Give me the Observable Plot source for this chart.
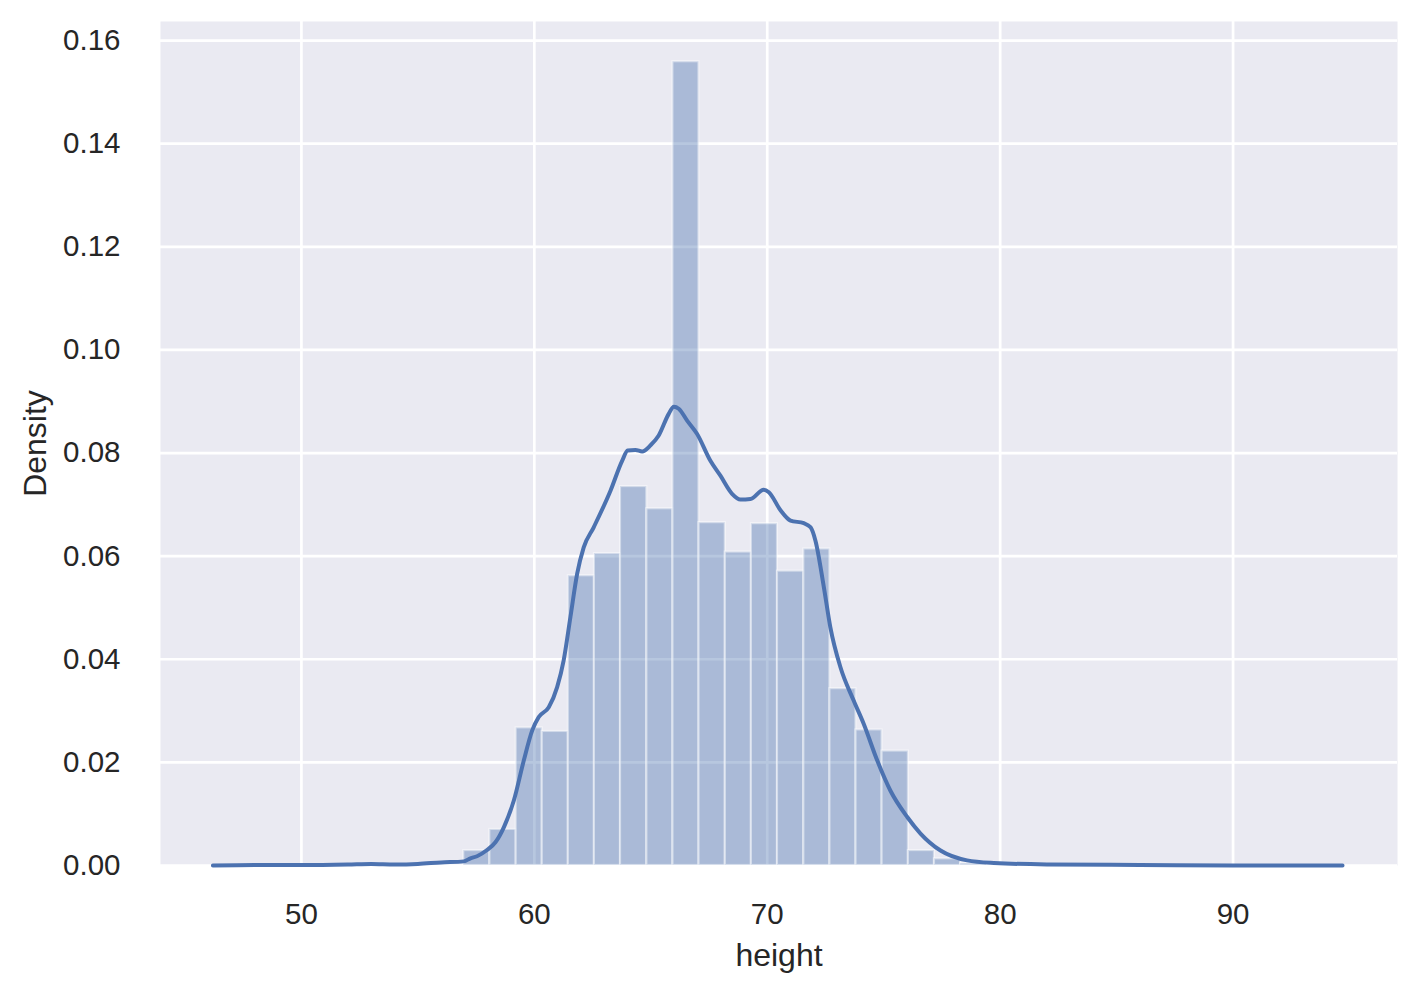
<!DOCTYPE html>
<html>
<head>
<meta charset="utf-8">
<script src="https://cdn.jsdelivr.net/npm/d3@7"></script>
<script src="https://cdn.jsdelivr.net/npm/@observablehq/plot@0.6"></script>
<style>
  body { margin: 0; background: #ffffff; }
  #chart svg { display: block; }
</style>
</head>
<body>
<div id="chart"></div>
<script>
// ---- Data ----
const binEdges = [56.97, 58.09, 59.22, 60.34, 61.46, 62.58, 63.70, 64.83, 65.95, 67.07,
                  68.20, 69.32, 70.44, 71.57, 72.69, 73.81, 74.93, 76.06, 77.18, 78.30, 79.42];
const binDensity = [0.0029, 0.0070, 0.0267, 0.0260, 0.0562, 0.0605, 0.0735, 0.0692, 0.1559, 0.0665,
                    0.0608, 0.0663, 0.0571, 0.0614, 0.0343, 0.0263, 0.0222, 0.0029, 0.0013, 0.0004];

const kdeX = [46.2, 48.0, 50.0, 52.0, 53.0, 54.0, 55.0, 56.0, 56.97, 57.26, 57.54, 57.97, 58.33, 58.69,
              59.12, 59.55, 59.91, 60.19, 60.62, 60.98, 61.26, 61.55, 61.84, 62.12, 62.55, 63.27,
              63.77, 64.01, 64.34, 64.63, 64.99, 65.34, 65.77, 65.99, 66.20, 66.56, 66.99, 67.56,
              67.99, 68.49, 68.85, 69.28, 69.85, 70.07, 70.57, 71.00, 71.57, 71.86, 72.07, 72.43,
              72.71, 73.14, 73.71, 74.14, 74.72, 75.29, 76.01, 76.58, 77.44, 78.58, 79.73, 82.0,
              86.0, 90.0, 94.7];
const kdeY = [0.0000, 0.0001, 0.0001, 0.0002, 0.0003, 0.0002, 0.0003, 0.0006, 0.0008, 0.0014, 0.0018,
              0.0030, 0.0045, 0.0074, 0.0126, 0.0204, 0.0262, 0.0288, 0.0307, 0.0346, 0.0398, 0.0482,
              0.0566, 0.0617, 0.0656, 0.0727, 0.0785, 0.0805, 0.0806, 0.0803, 0.0815, 0.0834, 0.0876,
              0.0890, 0.0886, 0.0863, 0.0837, 0.0785, 0.0756, 0.0721, 0.0710, 0.0711, 0.0729, 0.0724,
              0.0689, 0.0669, 0.0664, 0.0656, 0.0630, 0.0540, 0.0462, 0.0385, 0.0320, 0.0275, 0.0204,
              0.0145, 0.0094, 0.0062, 0.0029, 0.0010, 0.0005, 0.0002, 0.0001, 0.0000, 0.0000];

const xTicks = [50, 60, 70, 80, 90];
const yTicks = [0, 0.02, 0.04, 0.06, 0.08, 0.10, 0.12, 0.14, 0.16];
const xLabel = "height";
const yLabel = "Density";

// ---- Build tables for the library ----
const bins = binDensity.map((d, i) => ({x1: binEdges[i], x2: binEdges[i + 1], y: d}));
const kde = kdeX.map((x, i) => ({x, y: kdeY[i]}));

const blue = "#4C72B0";
const textColor = "#262626";

const chart = Plot.plot({
  width: 1417,
  height: 994,
  marginLeft: 160,
  marginRight: 20,
  marginTop: 21,
  marginBottom: 129,
  style: {fontFamily: "'Liberation Sans', Arial, sans-serif", color: textColor, background: "#ffffff"},
  x: {domain: [43.95, 97.06]},
  y: {domain: [0, 0.1637]},
  marks: [
    Plot.frame({fill: "#EAEAF2", stroke: null}),
    Plot.gridX({ticks: xTicks, stroke: "#ffffff", strokeOpacity: 1, strokeWidth: 2.7}),
    Plot.gridY({ticks: yTicks, stroke: "#ffffff", strokeOpacity: 1, strokeWidth: 2.7}),
    Plot.rectY(bins, {x1: "x1", x2: "x2", y: "y", fill: blue, fillOpacity: 0.4,
                      stroke: "#ffffff", strokeOpacity: 0.45, strokeWidth: 2.2}),
    Plot.line(kde, {x: "x", y: "y", stroke: blue, strokeWidth: 4, curve: "monotone-x"}),
    Plot.axisX({ticks: xTicks, tickSize: 0, tickPadding: 38, label: null, fontSize: 29.5,
                tickFormat: d3.format("d")}),
    Plot.axisY({ticks: yTicks, tickSize: 0, tickPadding: 40, label: null, fontSize: 29.5,
                tickFormat: d3.format(".2f")}),
    Plot.text([xLabel], {frameAnchor: "bottom", dy: 90, lineAnchor: "middle", textAnchor: "middle",
                         fontSize: 32, fill: textColor}),
    Plot.text([yLabel], {frameAnchor: "left", dx: -125, rotate: -90, lineAnchor: "middle",
                         textAnchor: "middle", fontSize: 32, fill: textColor})
  ]
});

document.getElementById("chart").appendChild(chart);
</script>
</body>
</html>
